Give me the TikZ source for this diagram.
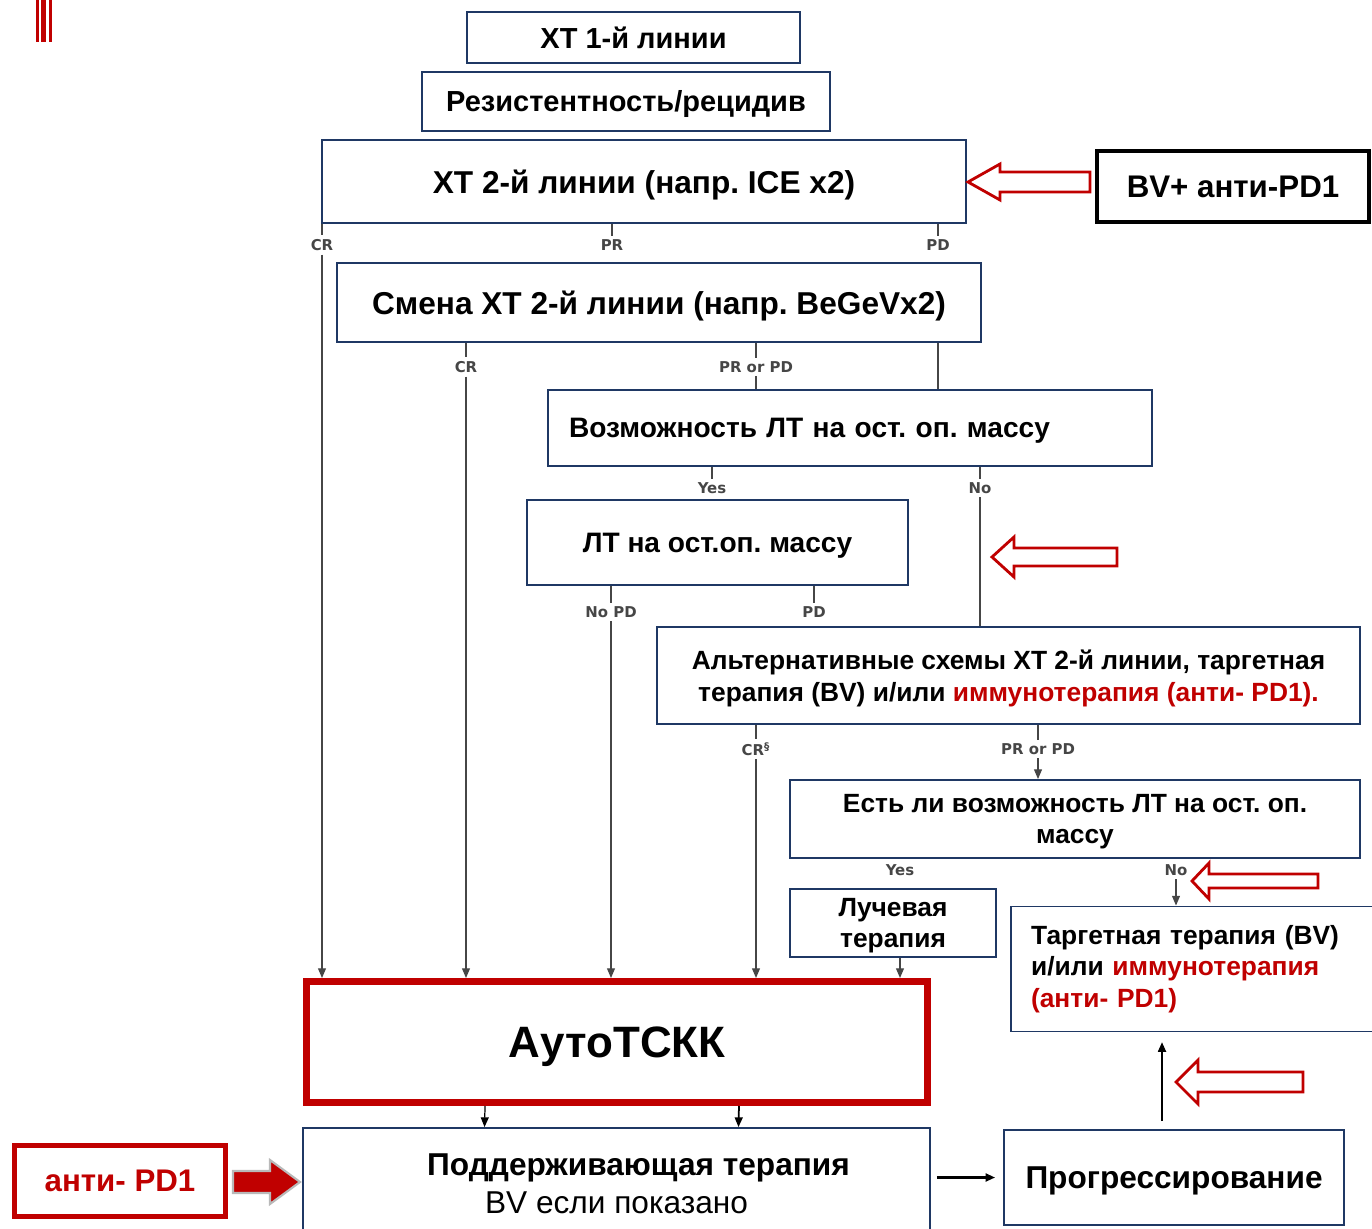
\documentclass[tikz,border=0pt]{standalone}
\usepackage{fontspec}
\setmainfont{Liberation Sans}
\newfontfamily\lblfont{DejaVu Sans}
\usetikzlibrary{arrows.meta, positioning}

\definecolor{boxblue}{RGB}{31,56,100}
\definecolor{darkred}{RGB}{192,0,0}
\definecolor{linegray}{RGB}{70,70,70}

\newcommand\boxfont[2]{\fontsize{#1}{#2}\selectfont\bfseries}

\tikzset{
	box/.style={draw=boxblue, line width=1.1pt, fill=white, align=center, inner sep=0pt},
	flatbox/.style={box, text depth=0pt},
	lbl/.style={font=\lblfont\bfseries\fontsize{8.5}{9}\selectfont, text=linegray, inner sep=2pt},
	conn/.style={draw=linegray, line width=0.7pt},
	arr/.style={conn, -{Triangle[length=5.5pt, width=4.5pt]}},
	hollow/.style={draw=darkred, line width=1.6pt, fill=white, line join=miter},
	solidarr/.style={draw=gray!55, line width=1.2pt, fill=darkred, line join=miter},
}

\begin{document}
\frenchspacing
\begin{tikzpicture}[x=0.02cm, y=-0.02cm]
		\useasboundingbox (0,0) rectangle (1372,1229);

		% corner mark
		\fill[darkred] (36,0) rectangle (39,42);
		\fill[darkred] (41,0) rectangle (46,42);
		\fill[darkred] (49,0) rectangle (52,42);

		% Boxes
		\begin{scope}
			\node (xt1) at (633.5, 37.5) [flatbox, minimum width=6.66cm, minimum height=1.02cm, font=\boxfont{16.5}{19}] {ХТ 1-й линии};
			\node (rez) at (626, 101.5) [flatbox, minimum width=8.16cm, minimum height=1.18cm, font=\boxfont{16.5}{19}] {Резистентность/рецидив};
			\node (xt2) at (644, 181.5) [flatbox, minimum width=12.88cm, minimum height=1.66cm, font=\boxfont{18}{21}] {ХТ 2-й линии (напр. ICE x2)};
			\node (bvpd) at (1233, 186.5) [flatbox, draw=black, line width=2.3pt, minimum width=5.44cm, minimum height=1.42cm, font=\boxfont{17.8}{20}] {BV+ анти-PD1};
			\node (smena) at (659, 302.5) [flatbox, minimum width=12.88cm, minimum height=1.58cm, font=\boxfont{18}{21}] {Смена ХТ 2-й линии (напр. BeGeVx2)};
			\node (vozm) at (850, 428) [flatbox, align=left, inner xsep=0.42cm, text width=11.24cm, minimum height=1.52cm, font=\boxfont{16}{19}] {Возможность ЛТ на ост. оп. массу};
			\node (lt) at (717.5, 542.5) [flatbox, minimum width=7.62cm, minimum height=1.7cm, font=\boxfont{16}{19}] {ЛТ на ост.оп. массу};
			\node (alt) at (1008.5, 675.5) [flatbox, minimum width=14.06cm, minimum height=1.94cm, font=\boxfont{15}{18}] {Альтернативные схемы ХТ 2-й линии, таргетная\\терапия (BV) и/или \textcolor{darkred}{иммунотерапия (анти- PD1).}};
			\node (esli) at (1075, 819) [flatbox, minimum width=11.4cm, minimum height=1.56cm, font=\boxfont{15}{18}] {Есть ли возможность ЛТ на ост. оп.\\массу};
			\node (luch) at (893, 923) [flatbox, minimum width=4.12cm, minimum height=1.36cm, font=\boxfont{15}{18}] {Лучевая\\терапия};
			\node (targ) at (1195.5, 969) [box, align=left, inner xsep=0.4cm, text width=6.58cm, minimum height=2.5cm, font=\boxfont{15}{18}] {Таргетная терапия (BV)\\и/или \textcolor{darkred}{иммунотерапия}\\\textcolor{darkred}{(анти- PD1)}};
			\node (auto) at (617, 1042) [flatbox, draw=darkred, line width=4pt, minimum width=12.42cm, minimum height=2.42cm, font=\boxfont{25}{30}] {АутоТСКК};
			\node (podd) at (616.5, 1184) [box, minimum width=12.54cm, minimum height=2.24cm, font=\boxfont{18}{21.5}] {\hspace*{0.88cm}Поддерживающая терапия\\{\mdseries BV если показано}};
			\node (antipd) at (120, 1181) [flatbox, draw=darkred, line width=2.8pt, text=darkred, minimum width=4.22cm, minimum height=1.42cm, font=\boxfont{17.8}{20}] {анти- PD1};
			\node (prog) at (1174, 1177.5) [flatbox, minimum width=6.8cm, minimum height=1.9cm, font=\boxfont{18}{21}] {Прогрессирование};
		\end{scope}

		% Outcome labels
		\begin{scope}
			\node (cra) at (322, 245) [lbl] {CR};
			\node (pra) at (612, 245) [lbl] {PR};
			\node (pda) at (938, 245) [lbl] {PD};
			\node (crb) at (466, 367) [lbl] {CR};
			\node (prpdb) at (756, 367) [lbl] {PR or PD};
			\node (yesc) at (712, 488) [lbl] {Yes};
			\node (noc) at (980, 488) [lbl] {No};
			\node (nopdd) at (611, 612) [lbl] {No PD};
			\node (pdd) at (814, 612) [lbl] {PD};
			\node (cre) at (756, 749) [lbl] {CR\textsuperscript{§}};
			\node (prpde) at (1038, 749) [lbl] {PR or PD};
			\node (yesf) at (900, 870) [lbl] {Yes};
			\node (nof) at (1176, 870) [lbl] {No};
		\end{scope}

		% Connectors
		\draw[conn] (xt2.south -| cra) -- (cra);
		\draw[conn] (xt2.south -| pra) -- (pra);
		\draw[conn] (xt2.south -| pda) -- (pda);
		\draw[arr] (cra) -- (auto.north -| cra);
		\draw[conn] (smena.south -| pda) -- (vozm.north -| pda);
		\draw[conn] (smena.south -| crb) -- (crb);
		\draw[arr] (crb) -- (auto.north -| crb);
		\draw[conn] (smena.south -| prpdb) -- (prpdb);
		\draw[conn] (prpdb) -- (vozm.north -| prpdb);
		\draw[conn] (vozm.south -| yesc) -- (yesc);
		\draw[conn] (vozm.south -| noc) -- (noc);
		\draw[conn] (noc) -- (alt.north -| noc);
		\draw[conn] (lt.south -| nopdd) -- (nopdd);
		\draw[conn] (lt.south -| pdd) -- (pdd);
		\draw[arr] (nopdd) -- (auto.north -| nopdd);
		\draw[conn] (alt.south -| cre) -- (cre);
		\draw[conn] (alt.south -| prpde) -- (prpde);
		\draw[arr] (cre) -- (auto.north -| cre);
		\draw[arr] (prpde) -- (esli.north -| prpde);
		\draw[arr] (nof) -- (targ.north -| nof);
		\draw[arr] (luch.south -| yesf) -- (auto.north -| yesf);
		\draw[arr, draw=black] ([xshift=-2.64cm]auto.south) -- ([xshift=-2.64cm]podd.north);
		\draw[arr, draw=black, line width=1pt] ([xshift=2.44cm]auto.south) -- ([xshift=2.44cm]podd.north);
		\draw[arr, draw=black, line width=1.4pt, shorten <=3.4pt, shorten >=4.5pt] (prog.west -| podd.east) -- (prog.west);
		\coordinate (progtop) at ([xshift=-0.24cm, yshift=0.16cm]prog.north);
		\draw[arr, draw=black, line width=1.1pt, shorten >=5.5pt] (progtop) -- (targ.south -| progtop);

		% Block arrows
		\coordinate (pdtip) at (300, 1182);
		\draw[solidarr] (pdtip) -- ++(-30,-22) -- ++(0,11) -- ++(-37,0) -- ++(0,22) -- ++(37,0) -- ++(0,11) -- cycle;
		\coordinate (tipa) at (968, 182);
		\draw[hollow] (tipa) -- ++(32,-18) -- ++(0,8) -- ++(90,0) -- ++(0,20) -- ++(-90,0) -- ++(0,8) -- cycle;
		\coordinate (tipb) at (992, 557);
		\draw[hollow] (tipb) -- ++(22,-20) -- ++(0,11) -- ++(103,0) -- ++(0,18) -- ++(-103,0) -- ++(0,11) -- cycle;
		\coordinate (tipc) at (1192, 881);
		\draw[hollow] (tipc) -- ++(17,-18) -- ++(0,11) -- ++(109,0) -- ++(0,14) -- ++(-109,0) -- ++(0,11) -- cycle;
		\coordinate (tipd) at (1176, 1082);
		\draw[hollow] (tipd) -- ++(22,-22) -- ++(0,12) -- ++(105,0) -- ++(0,20) -- ++(-105,0) -- ++(0,12) -- cycle;

	\end{tikzpicture}
\end{document}
